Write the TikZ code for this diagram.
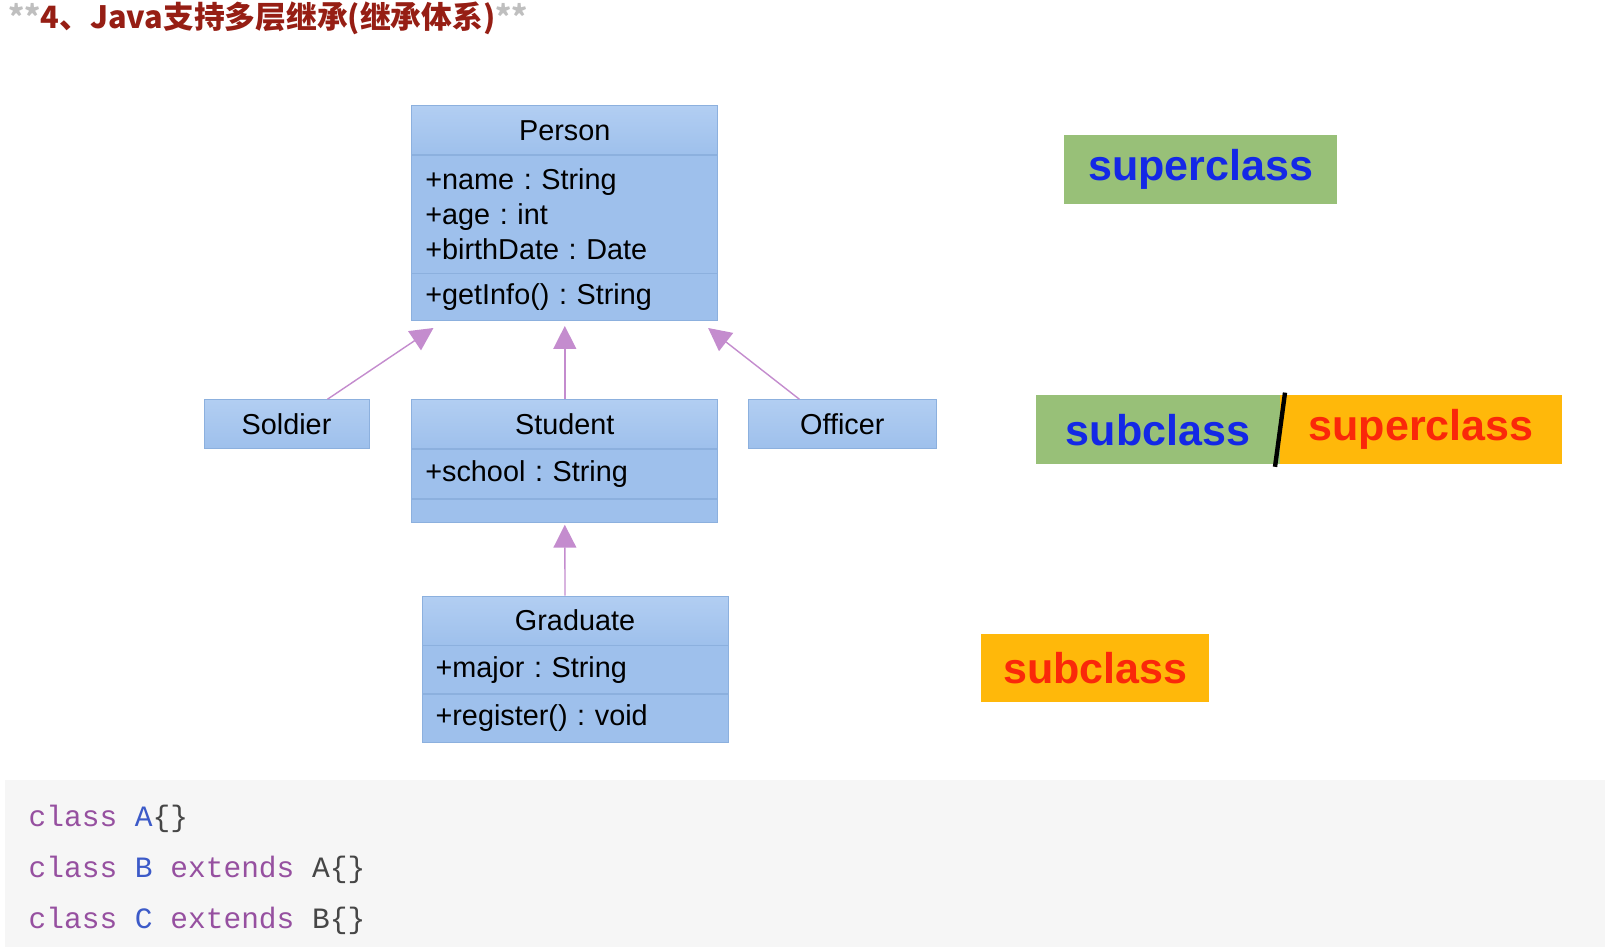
\documentclass[tikz,border=0pt]{standalone}
\usepackage{fontspec}
\setmainfont{Liberation Sans}
\setmonofont{Liberation Mono}
\newfontfamily\cjk{Noto Sans CJK SC}
\usetikzlibrary{arrows.meta,positioning}
\frenchspacing
\definecolor{umlfill}{RGB}{158,192,236}
\definecolor{umltop}{RGB}{178,206,242}
\definecolor{umlline}{RGB}{140,176,222}
\definecolor{inh}{RGB}{196,140,206}
\definecolor{labgreen}{RGB}{152,192,120}
\definecolor{laborange}{RGB}{255,184,10}
\definecolor{labblue}{RGB}{20,40,230}
\definecolor{labred}{RGB}{250,40,10}
\definecolor{codebg}{RGB}{246,246,246}
\definecolor{kw}{RGB}{150,80,160}
\definecolor{cname}{RGB}{60,90,200}
\definecolor{codetxt}{RGB}{70,70,70}
\definecolor{titlered}{RGB}{150,30,20}
\begin{document}
\begin{tikzpicture}[x=0.02047cm,y=-0.02047cm,node distance = 0pt,
    umlhead/.style={rectangle,draw=umlline,top color=umltop,bottom color=umlfill,minimum height=0.98cm,
      inner sep=0pt,font=\fontsize{16.4}{19}\selectfont},
    umlpart/.style={rectangle,draw=umlline,fill=umlfill,inner xsep=0.27cm,inner ysep=0pt,text width=5.58cm,align=left,
      font=\fontsize{16.4}{20}\selectfont},
    isa/.style={draw=inh,line width=0.8pt,-{Triangle[length=13pt,width=13pt,fill=inh]}},
    tag/.style={rectangle,inner sep=0pt,minimum height=1.37cm,font=\fontsize{24.5}{28}\selectfont\bfseries},
    code/.style={anchor=west,text=codetxt,font=\fontsize{16.8}{20}\ttfamily},
   ]
    \useasboundingbox (0,0) rectangle (1568,925);
    \fill[white] (0,0) rectangle (1568,925);

    % title
    \node (title) [anchor=west,font=\fontsize{17.5}{20}\cjk\bfseries,text=titlered] at (2,18)
      {\textcolor{black!25}{**}4、Java支持多层继承(继承体系)\textcolor{black!25}{**}};

    % Person
    \node (person) [umlhead,minimum width=6.12cm,anchor=north west] at (402,103) {Person};
    \node (personA) [umlpart,minimum height=2.35cm,below=of person] {+name : String\\+age : int\\+birthDate : Date};
    \node (personM) [umlpart,minimum height=0.94cm,below=of personA] {+getInfo() : String};

    % Student
    \node (student) [umlhead,minimum width=6.12cm,anchor=north west] at (402,390) {Student};
    \node (studentA) [umlpart,minimum height=0.98cm,below=of student] {+school : String};
    \node (studentM) [umlpart,minimum height=0.47cm,below=of studentA] {};

    \node (soldier) [umlhead,minimum width=3.30cm,anchor=north west] at (199,390) {Soldier};
    \node (officer) [umlhead,minimum width=3.75cm,anchor=north west] at (731,390) {Officer};

    % Graduate
    \node (graduate) [umlhead,minimum width=6.12cm,anchor=north west] at (412,582) {Graduate};
    \node (graduateA) [umlpart,minimum height=0.96cm,below=of graduate] {+major : String};
    \node (graduateM) [umlpart,minimum height=0.96cm,below=of graduateA] {+register() : void};

    \draw[isa] ([xshift=0.82cm]soldier.north) -- ([xshift=0.44cm,yshift=-0.14cm]personM.south west);
    \draw[isa] (student.north) -- ([yshift=-0.1cm]personM.south);
    \draw[isa] ([xshift=-0.86cm]officer.north) -- ([xshift=-0.2cm,yshift=-0.14cm]personM.south east);
    \draw[isa] ([xshift=-0.2cm]graduate.north) -- ([yshift=-0.04cm]studentM.south);

    % labels
    \node (sup) [tag,fill=labgreen,minimum width=5.47cm,anchor=north west,text=labblue] at (1039,132) {superclass};
    \node (mid1) [tag,fill=labgreen,minimum width=4.87cm,anchor=north west,text=labblue] at (1012,386) {subclass\hspace{0.6cm}};
    \node (mid2) [tag,fill=laborange,minimum width=5.63cm,right=of mid1,text=labred] {\raisebox{-2pt}{superclass}};
    \draw[line width=2.5pt] ([xshift=-0.1cm,yshift=-0.05cm]mid2.south west) -- ([xshift=0.1cm,yshift=0.05cm]mid2.north west);
    \node (sub) [tag,fill=laborange,minimum width=4.57cm,anchor=north west,text=labred] at (958,619) {subclass};

    % code block
    \fill[codebg] (5,762) rectangle (1568,925);
    \node (lineA) [code] at (22,800) {\textcolor{kw}{class} \textcolor{cname}{A}\{\}};
    \node (lineB) [code] at (22,850) {\textcolor{kw}{class} \textcolor{cname}{B} \textcolor{kw}{extends} A\{\}};
    \node (lineC) [code] at (22,900) {\textcolor{kw}{class} \textcolor{cname}{C} \textcolor{kw}{extends} B\{\}};
\end{tikzpicture}
\end{document}
